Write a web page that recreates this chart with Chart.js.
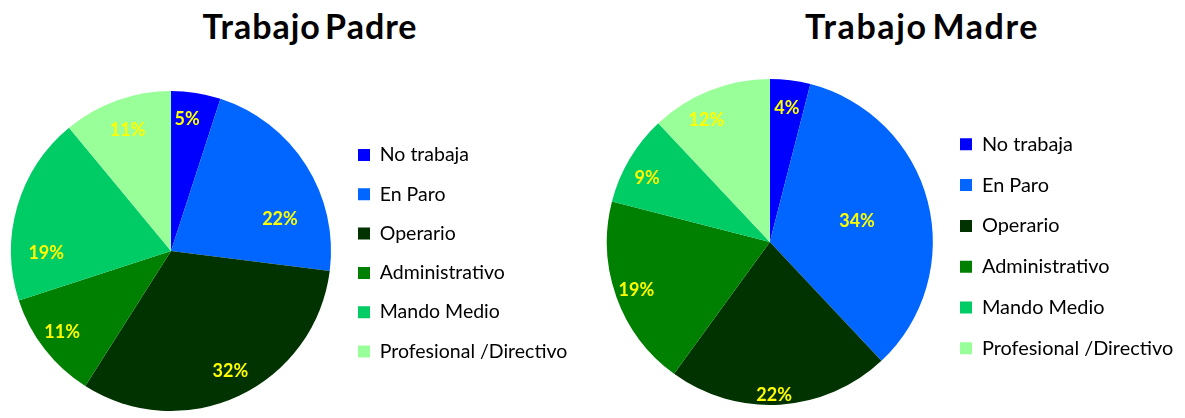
<!DOCTYPE html>
<html>
<head>
<meta charset="utf-8">
<script src="https://cdn.jsdelivr.net/npm/chart.js@4.4.1/dist/chart.umd.min.js"></script>
<style>
    html, body { margin: 0; padding: 0; background: #fff; }
    body { width: 1185px; height: 418px; position: relative; overflow: hidden; }
    .title {
        position: absolute; top: 9px; width: 320px;
        font: bold 34px/34px Lato, sans-serif; color: #000;
        text-align: center; white-space: nowrap;
        letter-spacing: 1px; word-spacing: -5px;
    }
    canvas { position: absolute; top: 0; }
</style>
</head>
<body>
<div class="title" style="left:150px">Trabajo Padre</div>
<div class="title" style="left:762px; letter-spacing:1.6px">Trabajo Madre</div>
<canvas id="padreChart" width="600" height="418" style="left:0"></canvas>
<canvas id="madreChart" width="585" height="418" style="left:600px"></canvas>

<script>
// Data
const categories = ['No trabaja', 'En Paro', 'Operario', 'Administrativo', 'Mando Medio', 'Profesional /Directivo'];
const padreValues = [5, 22, 32, 11, 19, 11];
const madreValues = [4, 34, 22, 19, 9, 12];
const sliceColors = ['#0000FF', '#0066FF', '#003300', '#008000', '#00CC66', '#99FF99'];

const BOX = 12;

// Percent labels inside the slices (radius factor + angle nudge per slice)
const pieLabels = {
    id: 'pieLabels',
    afterDatasetsDraw(chart, args, opts) {
        const ctx = chart.ctx;
        const meta = chart.getDatasetMeta(0);
        const values = chart.data.datasets[0].data;
        ctx.save();
        ctx.font = 'bold 18px Lato, sans-serif';
        ctx.fillStyle = '#FFFF00';
        ctx.textAlign = 'center';
        ctx.textBaseline = 'middle';
        meta.data.forEach((arc, i) => {
            const p = arc.getProps(['x', 'y', 'startAngle', 'endAngle', 'outerRadius'], true);
            const mid = (p.startAngle + p.endAngle) / 2 + (opts.shift[i] || 0) * Math.PI / 180;
            const r = p.outerRadius * opts.radius[i];
            ctx.fillText(values[i] + '%', p.x + Math.cos(mid) * r, p.y + Math.sin(mid) * r);
        });
        ctx.restore();
    }
};

// right padding so the legend starts at legendLeft (legend width = its natural width)
function rightPad(canvasWidth, legendLeft, fontSize, pad) {
    const ctx = document.createElement('canvas').getContext('2d');
    ctx.font = fontSize + 'px Lato';
    const textW = Math.max(...categories.map(c => ctx.measureText(c).width));
    const legendWidth = pad + BOX + fontSize / 2 + textW + 10;
    return canvasWidth - legendLeft - legendWidth;
}

function makePie(id, values, cfg) {
    const canvas = document.getElementById(id);
    const padding = Object.assign({}, cfg.padding, {
        right: rightPad(canvas.width, cfg.legendLeft, cfg.fontSize, cfg.legendPad)
    });
    return new Chart(canvas, {
        type: 'pie',
        data: {
            labels: categories,
            datasets: [{
                data: values,
                backgroundColor: sliceColors,
                borderWidth: 0
            }]
        },
        options: {
            responsive: false,
            animation: false,
            layout: { padding: padding },
            plugins: {
                tooltip: { enabled: false },
                legend: {
                    position: 'right',
                    fullSize: false,
                    align: 'center',
                    title: { display: true, text: '', font: { size: 1 }, padding: { top: cfg.legendShift, bottom: 0 } },
                    labels: {
                        boxWidth: BOX,
                        boxHeight: BOX,
                        padding: cfg.legendPad,
                        color: '#000',
                        font: { family: 'Lato', size: cfg.fontSize }
                    }
                },
                pieLabels: { radius: cfg.labelRadius, shift: cfg.labelShift }
            }
        },
        plugins: [pieLabels]
    });
}

makePie('padreChart', padreValues, {
    padding: { left: 3.8, top: 91, bottom: 7 },
    legendLeft: 338.2,
    legendPad: 19.8,
    legendShift: 3.3,
    fontSize: 19.5,
    labelRadius: [0.83, 0.71, 0.84, 0.85, 0.78, 0.8],
    labelShift: [-2, 16, -1, 1, -17, 0]
});

makePie('madreChart', madreValues, {
    padding: { left: 0.6, top: 79, bottom: 13 },
    legendLeft: 339.1,
    legendPad: 20.9,
    legendShift: 7.4,
    fontSize: 19.9,
    labelRadius: [0.83, 0.55, 0.94, 0.87, 0.85, 0.84],
    labelShift: [0, 1, 2, 0, -3, -6]
});
</script>
</body>
</html>
